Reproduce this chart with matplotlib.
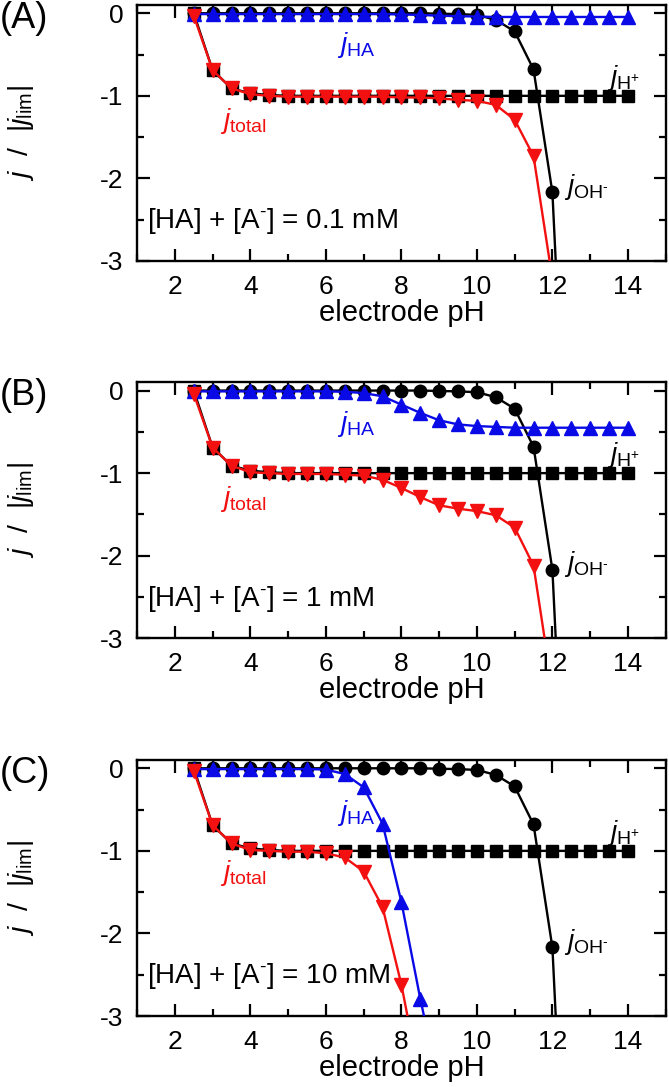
import matplotlib
matplotlib.use('Agg')
import matplotlib.pyplot as plt
from matplotlib.ticker import MultipleLocator

plt.rcParams['font.family'] = ['Liberation Sans', 'DejaVu Sans']
plt.rcParams['mathtext.fontset'] = 'custom'
plt.rcParams['mathtext.rm'] = 'Liberation Sans'
plt.rcParams['mathtext.it'] = 'Liberation Sans:italic'
plt.rcParams['mathtext.bf'] = 'Liberation Sans:bold'
plt.rcParams['axes.unicode_minus'] = False

# electrode pH values
ph = [2.5, 3.0, 3.5, 4.0, 4.5, 5.0, 5.5, 6.0, 6.5, 7.0, 7.5, 8.0,
      8.5, 9.0, 9.5, 10.0, 10.5, 11.0, 11.5, 12.0, 12.5, 13.0, 13.5, 14.0]

# currents normalised by |j_lim|
j_h = [0.0, -0.69, -0.91, -0.97, -0.99, -1.0, -1.0, -1.0, -1.0, -1.0, -1.0, -1.0,
       -1.0, -1.0, -1.0, -1.0, -1.0, -1.0, -1.0, -1.0, -1.0, -1.0, -1.0, -1.0]
j_oh = [0.0, 0.0, 0.0, 0.0, 0.0, 0.0, 0.0, 0.0, 0.0, 0.0, 0.0, 0.0,
        0.0, -0.005, -0.01, -0.02, -0.08, -0.22, -0.68, -2.17, -6.9, -21.9, -69.0, -218.0]

j_ha_a = [-0.01, -0.01, -0.01, -0.01, -0.01, -0.01, -0.01, -0.01, -0.01, -0.01, -0.01, -0.015,
          -0.02, -0.03, -0.035, -0.04, -0.045, -0.045, -0.045, -0.045, -0.045, -0.045, -0.045, -0.045]
j_tot_a = [-0.03, -0.69, -0.91, -0.98, -1.0, -1.01, -1.01, -1.01, -1.01, -1.01, -1.01, -1.02,
           -1.02, -1.03, -1.05, -1.06, -1.11, -1.29, -1.73, -3.22, -7.0, -22.0, -69.0, -218.0]

j_ha_b = [-0.01, -0.01, -0.01, -0.01, -0.01, -0.01, -0.01, -0.01, -0.015, -0.03, -0.07, -0.17,
          -0.27, -0.36, -0.41, -0.43, -0.44, -0.45, -0.45, -0.45, -0.45, -0.45, -0.45, -0.45]
j_tot_b = [-0.04, -0.69, -0.91, -0.99, -1.0, -1.01, -1.01, -1.01, -1.02, -1.03, -1.08, -1.18,
           -1.29, -1.39, -1.43, -1.46, -1.51, -1.66, -2.12, -3.62, -7.4, -22.4, -69.5, -218.5]

j_ha_c = [-0.01, -0.01, -0.01, -0.01, -0.01, -0.01, -0.01, -0.015, -0.07, -0.23, -0.67, -1.62,
          -2.79, -3.85, -4.3, -4.45, -4.5, -4.5, -4.5, -4.5, -4.5, -4.5, -4.5, -4.5]
j_tot_c = [-0.03, -0.69, -0.91, -0.99, -1.0, -1.01, -1.01, -1.03, -1.08, -1.25, -1.68, -2.62,
           -3.8, -4.85, -5.3, -5.47, -5.58, -5.72, -6.2, -7.7, -11.4, -26.4, -73.5, -222.5]

panels = ['(A)', '(B)', '(C)']
conc = ['0.1 mM', '1 mM', '10 mM']
j_ha_all = [j_ha_a, j_ha_b, j_ha_c]
j_tot_all = [j_tot_a, j_tot_b, j_tot_c]
ha_label_y = [-0.38, -0.41, -0.54]
tot_label_y = [-1.3, -1.31, -1.27]

blue = '#0a0ae6'
red = '#f21010'

fig = plt.figure(figsize=(6.69, 10.87), dpi=100)
bottoms = [0.7599, 0.4128, 0.0653]
h = 0.2355
fs = 20

for i in range(3):
    ax = fig.add_axes([0.205, bottoms[i], 0.79, h])
    ax.plot(ph, j_h, '-s', color='black', lw=1.7, ms=8, zorder=2)
    ax.plot(ph, j_oh, '-o', color='black', lw=1.7, ms=9, zorder=3)
    ax.plot(ph, j_ha_all[i], '-^', color=blue, mec=blue, lw=1.7, ms=10, zorder=4)
    ax.plot(ph, j_tot_all[i], '-v', color=red, mec=red, lw=1.7, ms=10, zorder=5)

    ax.set_xlim(1, 15)
    ax.set_ylim(-3, 0.1)
    ax.xaxis.set_major_locator(MultipleLocator(2))
    ax.xaxis.set_minor_locator(MultipleLocator(1))
    ax.yaxis.set_major_locator(MultipleLocator(1))
    ax.yaxis.set_minor_locator(MultipleLocator(0.5))
    ax.tick_params(which='both', direction='in', top=True, right=True, width=1.6)
    ax.tick_params(which='major', length=9, labelsize=19, pad=10)
    ax.tick_params(which='minor', length=5)
    for sp in ax.spines.values():
        sp.set_linewidth(1.7)

    ax.set_xlabel('electrode pH', fontsize=21, labelpad=0)
    ax.set_ylabel(r'$j\ \ /\ \ |j_{\mathrm{lim}}|$', fontsize=20.5, labelpad=46)

    ax.text(6.3, ha_label_y[i], r'$j_{\mathrm{HA}}$', color=blue, fontsize=fs,
            va='center')
    ax.text(3.2, tot_label_y[i], r'$j_{\mathrm{total}}$', color=red, fontsize=fs,
            va='center')
    ax.text(13.45, -0.78, r'$j_{\mathrm{H}^{+}}$', color='black', fontsize=fs, va='center')
    ax.text(12.3, -2.1, r'$j_{\mathrm{OH}^{\text{-}}}$', color='black', fontsize=fs,
            va='center')
    ax.text(1.25, -2.52, r'[HA] + [A$^{\text{-}}$] = ' + conc[i], fontsize=fs,
            va='center')

    fig.text(0.0, bottoms[i] + h + 0.004, panels[i], fontsize=26, va='top', ha='left')

fig.savefig('out.png', dpi=100)
